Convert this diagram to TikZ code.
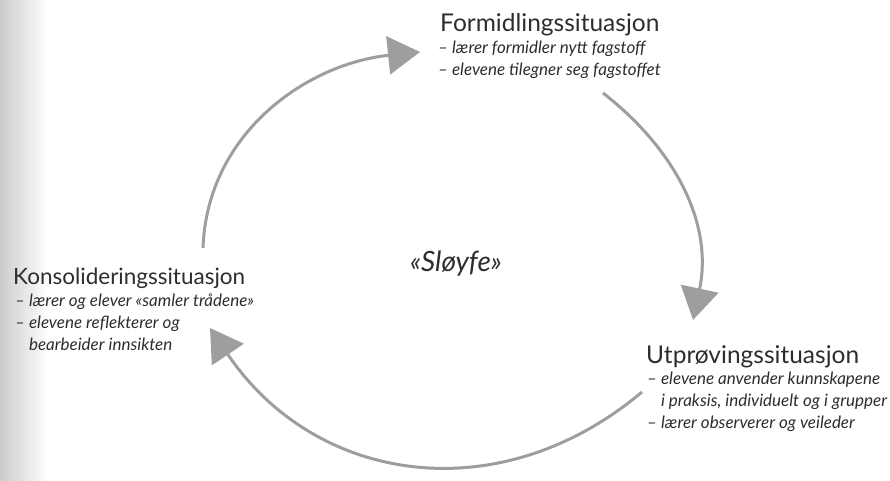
\documentclass[tikz,border=0pt]{standalone}
\usepackage{fontspec}
\setmainfont{Lato}
\usetikzlibrary{arrows.meta}
\definecolor{pilgraa}{RGB}{158,158,158}
\definecolor{tekst}{RGB}{45,45,45}
\begin{document}
\begin{tikzpicture}[x=1pt,y=1pt,
  tittel/.style={anchor=base west,inner sep=0pt,text=tekst,font=\fontsize{#1}{#1}\selectfont},
  linje/.style={anchor=base west,inner sep=0pt,text=tekst,font=\fontsize{17}{20}\selectfont\itshape},
  pil/.style={line width=3pt,draw=pilgraa,-{Triangle[length=32pt,width=38pt]}}]

\useasboundingbox (0,0) rectangle (890,481);

% Skannekant
\shade[left color=black!20,right color=white] (0,0) rectangle (48,481);

% Formidling
\node[tittel=24.5] (formid) at (440,449) {Formidlingssituasjon};
\node[linje] (formidA) at (438,427) {– lærer formidler nytt fagstoff};
\node[linje] (formidB) at (438,405) {– elevene tilegner seg fagstoffet};

% Utproving
\node[tittel=24.5] (utprov) at (646,117) {Utprøvingssituasjon};
\node[linje] (utprovA) at (647,96) {– elevene anvender kunnskapene};
\node[linje] (utprovB) at (647,74) {\phantom{– }i praksis, individuelt og i grupper};
\node[linje] (utprovC) at (647,52) {– lærer observerer og veileder};

% Konsolidering
\node[tittel=22.5] (konsol) at (13,196) {Konsolideringssituasjon};
\node[linje] (konsolA) at (15,174) {– lærer og elever «samler trådene»};
\node[linje] (konsolB) at (15,152) {– elevene reflekterer og};
\node[linje] (konsolC) at (15,130) {\phantom{– }bearbeider innsikten};

% Midten
\node[anchor=base,inner sep=0pt,text=tekst,font=\fontsize{28}{30}\selectfont\itshape] (sloyfe) at (456,209) {«Sløyfe»};

% Piler
\coordinate (p1a) at (203,233);
\coordinate (p1b) at (420,429);
\coordinate (p2a) at (603,388);
\coordinate (p2b) at (693,161);
\coordinate (p3a) at (642,89);
\coordinate (p3b) at (210,153);

\draw[pil] (p1a) to[out=88,in=186] (p1b);
\draw[pil] (p2a) to[out=-38,in=78] (p2b);
\draw[pil] (p3a) to[out=-140,in=-56,looseness=1.1] (p3b);
\end{tikzpicture}
\end{document}
